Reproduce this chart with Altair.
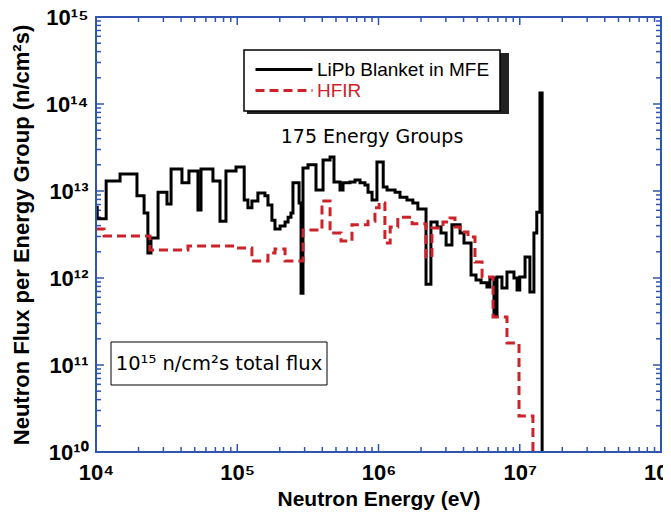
import altair as alt
import pandas as pd

# ---- data ----
series_names = ["LiPb Blanket in MFE", "HFIR"]
series_colors = ["#000000", "#cc2229"]

# group edges (eV) and flux per group (n/cm^2 s); last value is off-scale (below 1e10)
mfe_energy = [1.0e4, 1.02e4, 1.18e4, 1.48e4, 1.95e4, 2.19e4, 2.33e4, 2.45e4, 2.75e4, 3.18e4,
              3.40e4, 4.06e4, 4.55e4, 5.27e4, 5.54e4, 6.73e4, 7.55e4, 8.32e4, 9.80e4, 1.12e5,
              1.19e5, 1.27e5, 1.40e5, 1.57e5, 1.65e5, 1.76e5, 1.85e5, 2.01e5, 2.18e5, 2.29e5,
              2.40e5, 2.48e5, 2.74e5, 2.83e5, 2.92e5, 3.17e5, 3.61e5, 4.05e5, 4.54e5, 4.84e5,
              5.34e5, 5.61e5, 6.28e5, 6.82e5, 7.40e5, 8.02e5, 8.43e5, 9.00e5, 9.75e5, 1.08e6,
              1.15e6, 1.31e6, 1.42e6, 1.59e6, 1.75e6, 1.90e6, 2.17e6, 2.35e6, 2.60e6, 2.77e6,
              3.01e6, 3.31e6, 3.78e6, 4.03e6, 4.52e6, 4.90e6, 5.32e6, 5.86e6, 6.15e6, 6.57e6,
              6.90e6, 7.48e6, 8.12e6, 9.10e6, 9.57e6, 1.00e7, 1.09e7, 1.18e7, 1.26e7, 1.32e7,
              1.39e7, 1.44e7, 2.0e7]
mfe_flux = [6.5e12, 4.8e12, 1.30e13, 1.57e13, 8.8e12, 5.6e12, 1.94e12, 2.88e12, 9.7e12, 7.1e12,
            1.79e13, 1.24e13, 1.70e13, 6.05e12, 1.79e13, 1.30e13, 4.5e12, 1.70e13, 1.89e13, 7.9e12,
            6.4e12, 7.7e12, 9.5e12, 8.8e12, 6.9e12, 4.6e12, 3.66e12, 3.96e12, 4.4e12, 5.0e12,
            5.6e12, 1.24e13, 7.3e12, 6.7e11, 1.84e13, 2.0e13, 1.03e13, 2.27e13, 2.46e13, 1.27e13,
            1.03e13, 1.24e13, 1.27e13, 1.34e13, 1.24e13, 1.17e13, 9.7e12, 7.9e12, 2.15e13, 1.11e13,
            1.03e13, 9.7e12, 8.5e12, 7.9e12, 7.3e12, 6.2e12, 8.5e11, 4.4e12, 3.86e12, 3.29e12,
            2.39e12, 4.1e12, 3.29e12, 2.52e12, 1.08e12, 9.5e11, 8.8e11, 7.9e11, 1.0e12, 3.66e11,
            1.03e12, 7.7e11, 1.17e12, 1.0e12, 7.3e11, 1.03e12, 1.74e12, 6.9e11, 3.29e12, 5.7e12,
            1.34e14, 1.0e8]

hfir_energy = [1.0e4, 1.14e4, 2.41e4, 4.48e4, 9.64e4, 1.27e5, 1.65e5, 1.85e5, 2.18e5, 2.92e5,
               3.98e5, 4.54e5, 5.43e5, 6.49e5, 8.43e5, 9.44e5, 1.01e6, 1.11e6, 1.21e6, 1.37e6,
               1.73e6, 2.17e6, 2.39e6, 2.86e6, 3.21e6, 3.48e6, 3.78e6, 4.30e6, 4.82e6, 5.41e6,
               6.47e6, 8.12e6, 9.88e6, 1.24e7, 2.0e7]
hfir_flux = [3.66e12, 3.04e12, 2.10e12, 2.33e12, 2.21e12, 1.57e12, 1.94e12, 2.15e12, 1.57e12, 3.56e12,
             7.7e12, 3.29e12, 2.66e12, 4.1e12, 4.5e12, 6.4e12, 7.3e12, 2.52e12, 3.86e12, 5.0e12,
             4.2e12, 1.74e12, 3.76e12, 4.4e12, 4.9e12, 3.86e12, 3.38e12, 2.96e12, 1.53e12, 1.03e12,
             3.56e11, 1.79e11, 2.59e10, 1.0e8]

x_major = [1e4, 1e5, 1e6, 1e7, 1e8]
y_major = [1e10, 1e11, 1e12, 1e13, 1e14, 1e15]
x_minor = [k * 10.0 ** n for n in range(4, 8) for k in range(2, 10)]
y_minor = [k * 10.0 ** n for n in range(10, 15) for k in range(2, 10)]

annot_groups = "175 Energy Groups"
annot_total = "10\u00b9\u2075 n/cm\u00b2s total flux"
x_title = "Neutron Energy (eV)"
y_title = "Neutron Flux per Energy Group (n/cm\u00b2s)"


def step_rows(name, edges, vals):
    rows = [{"series": name, "E": e, "F": v, "i": k}
            for k, (e, v) in enumerate(zip(edges[:-1], vals))]
    rows.append({"series": name, "E": edges[-1], "F": vals[-1], "i": len(vals)})
    return rows


df = pd.DataFrame(step_rows(series_names[0], mfe_energy, mfe_flux)
                  + step_rows(series_names[1], hfir_energy, hfir_flux))

W, H = 565, 435
BLUE = "#2f55b0"

xs = alt.Scale(type="log", domain=[1e4, 1e8], nice=False)
ys = alt.Scale(type="log", domain=[1e10, 1e15], nice=False)

sup = "['\u2070','\u00b9','\u00b2','\u00b3','\u2074','\u2075','\u2076','\u2077','\u2078','\u2079']"
expo = "round(log(datum.value)/LN10)"
lab = f"'10' + ({expo} >= 10 ? '\u00b9' : '') + {sup}[{expo} % 10]"

x_label_axis = alt.Axis(orient="bottom", values=x_major, ticks=False, labelExpr=lab,
                        labelFont="Liberation Sans", labelFontSize=22, labelFontWeight="bold",
                        labelColor="black", labelPadding=10, labelFlush=False, labelOverlap=False,
                        domain=False, grid=False,
                        title=x_title, titleFont="Liberation Sans", titleFontSize=21,
                        titleFontWeight="bold", titleColor="black", titleY=47,
                        titleBaseline="middle")
y_label_axis = alt.Axis(orient="left", values=y_major, ticks=False, labelExpr=lab,
                        labelFont="Liberation Sans", labelFontSize=22, labelFontWeight="bold",
                        labelColor="black", labelPadding=8, labelFlush=False, labelOverlap=False,
                        domain=False, grid=False,
                        title=y_title, titleFont="Liberation Sans", titleFontSize=22,
                        titleFontWeight="bold", titleColor="black", titleX=-75,
                        titleBaseline="middle")

leg = alt.Legend(title=None, orient="none", legendX=148, legendY=33,
                 symbolType="M-1,0H6.125", symbolSize=256, symbolStrokeWidth=3,
                 labelFont="Liberation Sans", labelFontSize=19,
                 labelColor=alt.ExprRef(f"datum.label === '{series_names[1]}' ? '{series_colors[1]}' : '#000000'"),
                 labelOffset=44, padding=10, rowPadding=1, labelLimit=400,
                 strokeColor="black", fillColor="white")

cscale = alt.Scale(domain=series_names, range=series_colors)
dscale = alt.Scale(domain=series_names, range=[[1, 0], [9, 5]])


def series_layer(name, xaxis, yaxis):
    return (alt.Chart(df)
            .transform_filter(alt.datum.series == name)
            .mark_line(interpolate="step-after", strokeWidth=3, clip=True)
            .encode(x=alt.X("E:Q", scale=xs, axis=xaxis),
                    y=alt.Y("F:Q", scale=ys, axis=yaxis),
                    color=alt.Color("series:N", scale=cscale, legend=leg),
                    strokeDash=alt.StrokeDash("series:N", scale=dscale, legend=leg),
                    order="i:Q"))


def xticks(values, y0, y1):
    return (alt.Chart(pd.DataFrame({"t": values}))
            .mark_rule(color=BLUE, strokeWidth=1.5)
            .encode(x=alt.X("t:Q", scale=xs, axis=None), y=alt.value(y0), y2=alt.value(y1)))


def yticks(values, x0, x1):
    return (alt.Chart(pd.DataFrame({"t": values}))
            .mark_rule(color=BLUE, strokeWidth=1.5)
            .encode(y=alt.Y("t:Q", scale=ys, axis=None), x=alt.value(x0), x2=alt.value(x1)))


black = series_layer(series_names[0], x_label_axis, y_label_axis)
red = series_layer(series_names[1], None, None)

tick_layers = [
    xticks(x_major, H, H - 8), xticks(x_minor, H, H - 5),
    xticks(x_major, 0, 8), xticks(x_minor, 0, 5),
    yticks(y_major, 0, 8), yticks(y_minor, 0, 5),
    yticks(y_major, W, W - 8), yticks(y_minor, W, W - 5),
]

one = pd.DataFrame({"k": [0]})
frame = alt.Chart(one).mark_rect(fillOpacity=0, stroke=BLUE, strokeWidth=2).encode(
    x=alt.value(0), x2=alt.value(W), y=alt.value(0), y2=alt.value(H))
shadow = alt.Chart(one).mark_rect(color="#222222").encode(
    x=alt.value(151), x2=alt.value(413), y=alt.value(36), y2=alt.value(97))
box = alt.Chart(one).mark_rect(fill="white", stroke="black", strokeWidth=1).encode(
    x=alt.value(15), x2=alt.value(231), y=alt.value(325), y2=alt.value(368))
box_text = alt.Chart(one).mark_text(font="DejaVu Sans", fontSize=19.5, color="black",
                                    align="center", baseline="middle").encode(
    x=alt.value(123), y=alt.value(347), text=alt.value(annot_total))
groups_text = alt.Chart(one).mark_text(font="DejaVu Sans", fontSize=19, color="black",
                                       align="center", baseline="middle").encode(
    x=alt.value(276), y=alt.value(120), text=alt.value(annot_groups))

chart = (alt.layer(*tick_layers, shadow, box, box_text, groups_text, black, red, frame)
         .resolve_axis(x="independent", y="independent")
         .properties(width=W, height=H,
                     autosize=alt.AutoSizeParams(type="none"),
                     padding={"left": 88, "top": 9, "right": 2, "bottom": 60})
         .configure_view(stroke="transparent")
         .configure_legend(strokeWidth=1.5))

chart.save("out.html", embed_options={"renderer": "svg", "actions": False})
